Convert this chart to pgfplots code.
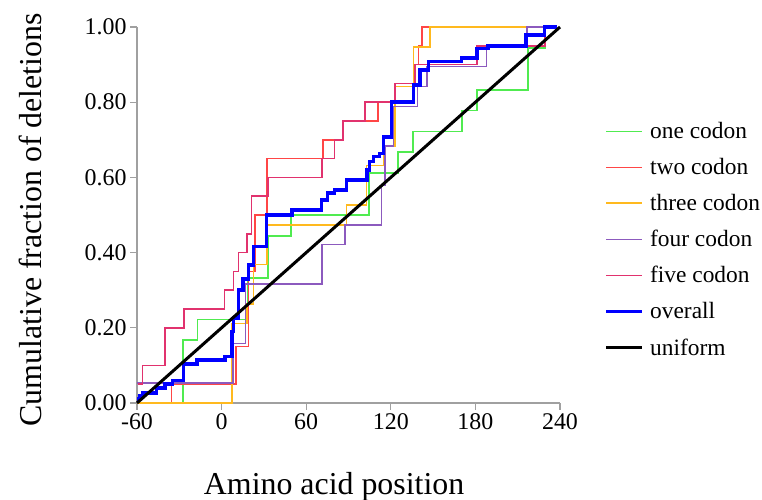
\documentclass[border=0pt]{standalone}
\usepackage{pgfplots}
\pgfplotsset{compat=1.18}
\usepackage{fontspec}
\setmainfont{Liberation Serif}
\definecolor{cgreen}{RGB}{80,235,80}
\definecolor{cred}{RGB}{255,70,70}
\definecolor{corange}{RGB}{255,185,30}
\definecolor{cpurple}{RGB}{140,90,190}
\definecolor{cpink}{RGB}{225,50,110}
\definecolor{axgray}{RGB}{160,160,160}
\begin{document}
\begin{tikzpicture}[x=1bp,y=1bp]
\useasboundingbox (0,0) rectangle (762,500);
\begin{axis}[
 at={(137bp,97bp)}, anchor=south west,
 scale only axis, width=423bp, height=376bp,
 xmin=-60, xmax=240, ymin=0, ymax=1,
 clip=false,
 axis lines*=left,
 axis line style={axgray, line width=1.5bp},
 xtick={-60,0,60,120,180,240},
 ytick={0,0.2,0.4,0.6,0.8,1},
 tick align=outside, major tick length=7bp,
 tick style={axgray, line width=1.2bp},
 /pgf/number format/assume math mode=true,
 yticklabel style={/pgf/number format/.cd, fixed, fixed zerofill, precision=2},
 xticklabel style={/pgf/number format/.cd, fixed},
 ticklabel style={font=\fontsize{24}{28}\selectfont, black},
 xlabel={Amino acid position},
 ylabel={Cumulative fraction of deletions},
 xlabel style={font=\fontsize{32}{37}\selectfont, at={(axis description cs:0.466,-0.222)}, anchor=center},
 ylabel style={font=\fontsize{32}{37}\selectfont, at={(axis description cs:-0.253,0.487)}, anchor=center, rotate=0},
 legend cell align=left,
 legend style={draw=none, fill=none, at={(axis description cs:1.098,0.757)}, anchor=north west,
   font=\fontsize{23.5}{27}\selectfont, row sep=14.2bp},
 legend image code/.code={\draw[#1] (0bp,0bp) -- (36bp,0bp); \path (40bp,0bp);},
 const plot,
]
\addplot[cgreen, line width=1.7bp] coordinates {
(-27.2,0) (-27.2,0.167) (-17,0.222) (18.7,0.333) (32.9,0.444) (49.2,0.5) (104.5,0.611) (125.1,0.667) (135.7,0.722) (170.5,0.778) (181.1,0.833) (217.3,0.944) (229.4,1) (229.5,1)};
\addlegendentry{one codon}
\addplot[cred, line width=1.6bp] coordinates {
(-60,0) (-35.4,0.05) (10.2,0.15) (19,0.35) (23.7,0.5) (32.4,0.65) (72,0.70) (86.3,0.75) (111,0.80) (123,0.85) (136,0.90) (139.5,0.95) (142,1.0) (149,1.0)};
\addlegendentry{two codon}
\addplot[corange, line width=1.6bp] coordinates {
(-60,0) (7.5,0.211) (18,0.263) (22.5,0.368) (32.4,0.474) (88.7,0.526) (102.9,0.632) (114.7,0.684) (123,0.842) (136,0.947) (147.8,1) (216.5,1)};
\addlegendentry{three codon}
\addplot[cpurple, line width=1.6bp] coordinates {
(-60,0.053) (8,0.158) (17,0.316) (71,0.421) (87.5,0.474) (113.5,0.579) (116,0.684) (122,0.789) (139,0.842) (145.5,0.895) (188,0.947) (216.4,1) (229.4,1)};
\addlegendentry{four codon}
\addplot[cpink, line width=1.6bp] coordinates {
(-59,0.05) (-56,0.10) (-40,0.20) (-26.5,0.25) (2,0.30) (8.3,0.35) (12,0.40) (18.2,0.45) (21.3,0.55) (33,0.60) (71,0.65) (80,0.70) (86,0.75) (101.7,0.80) (123,0.85) (137,0.90) (181,0.95) (229.4,1) (232,1)};
\addlegendentry{five codon}
\addplot[blue, line width=3.5bp] coordinates {
(-60,0.01) (-58,0.018) (-56,0.027) (-46,0.04) (-40,0.05) (-35,0.06) (-27,0.104) (-17.5,0.114) (2.5,0.123) (7.5,0.19) (8.5,0.226) (12,0.30) (15,0.33) (19,0.367) (22.5,0.416) (32,0.5) (50,0.513) (71,0.54) (75,0.558) (80,0.566) (88.7,0.593) (103,0.62) (105,0.642) (107.6,0.655) (112,0.664) (114.7,0.708) (120.6,0.80) (136,0.846) (140.7,0.886) (146.6,0.908) (170,0.918) (181,0.943) (189,0.95) (216,0.979) (229,1.0) (238,1.0)};
\addlegendentry{overall}
\addplot[black, line width=3bp, sharp plot] coordinates {(-60,0) (240,1)};
\addlegendentry{uniform}
\end{axis}
\end{tikzpicture}
\end{document}
